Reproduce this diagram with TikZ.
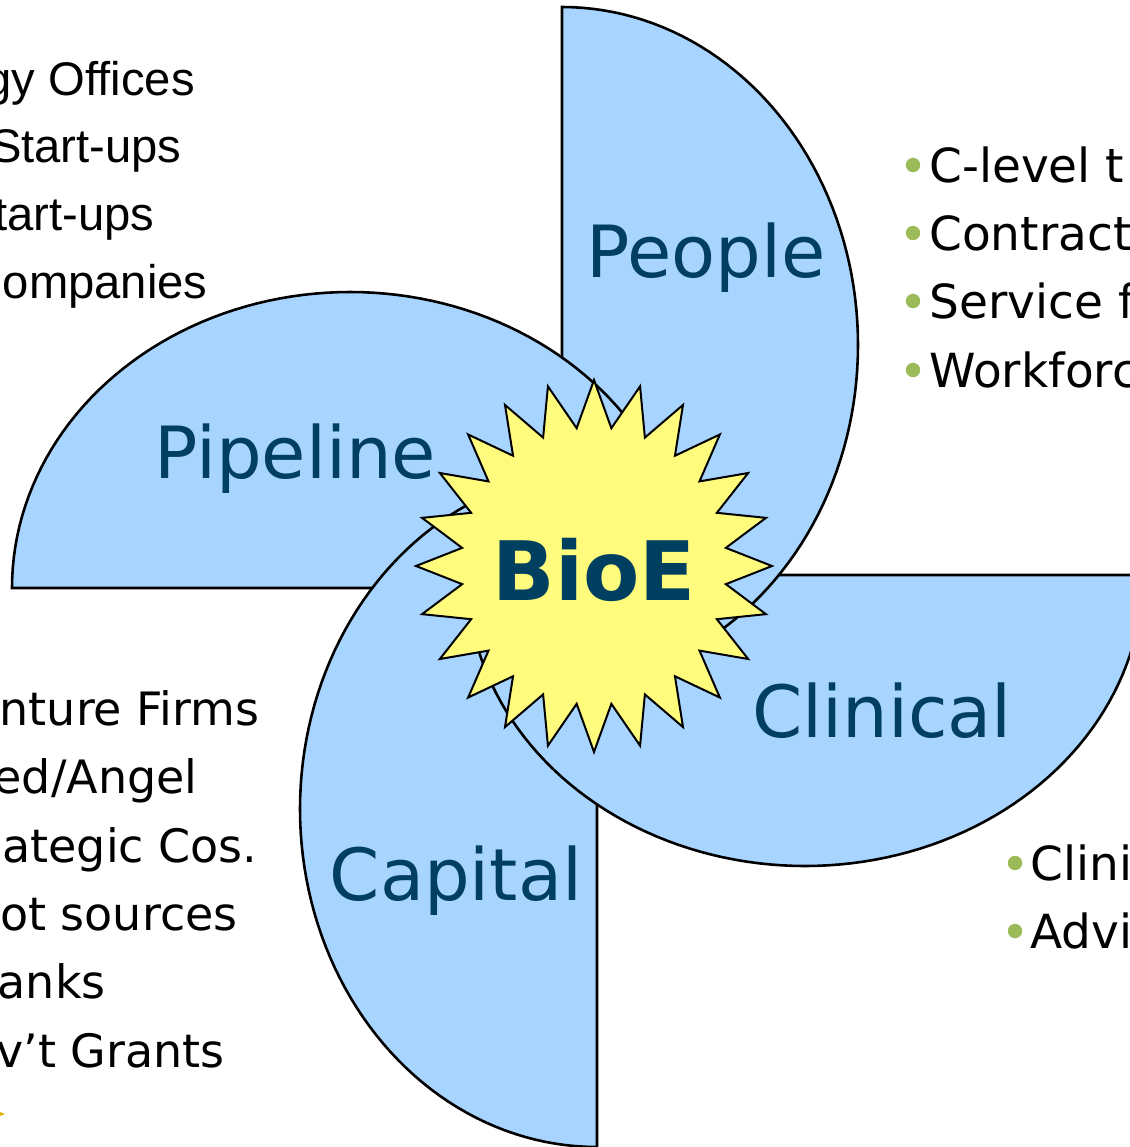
\documentclass[tikz,border=0pt]{standalone}
\usepackage{fontspec}
\setmainfont{DejaVu Sans}
\newfontfamily\arialfont{Liberation Sans}
\definecolor{petal}{RGB}{168,213,255}
\definecolor{burst}{RGB}{255,251,125}
\definecolor{navy}{RGB}{0,63,95}
\definecolor{bulletgreen}{RGB}{155,187,89}
\definecolor{gold}{RGB}{228,178,0}
\tikzset{
  outline/.style={line width=1.3pt,line join=miter},
  petallabel/.style={text=navy,font=\fontsize{36}{40}\selectfont,anchor=base,inner sep=0pt},
  listitem/.style={font=\fontsize{23}{27}\selectfont,inner sep=0pt},
}
\begin{document}
\begin{tikzpicture}[x=0.5pt,y=-0.5pt]
  \path[use as bounding box] (0,0) rectangle (1130,1147);
  \clip (0,0) rectangle (1130,1147);
  \fill[white] (0,0) rectangle (1130,1147);
  \def\petals{562/357/562/345/296/338/-90, 779/575/805/575/338/291/0,
              597/805/597/809/297/338/90, 372/588/350/588/338/296/180}
  \foreach \ex/\ey/\cx/\cy/\rx/\ry/\t in \petals{
    \fill[petal] plot[domain=\t:\t+180,samples=91] ({\cx+\rx*cos(\x)},{\cy+\ry*sin(\x)}) -- cycle;}
  \foreach \ex/\ey/\cx/\cy/\rx/\ry/\t in \petals{
    \draw[outline] (\ex,\ey) -- plot[domain=\t:\t+180,samples=91] ({\cx+\rx*cos(\x)},{\cy+\ry*sin(\x)});}
  \draw[line width=1pt,fill=burst] plot[samples at={0,...,47},variable=\k]
    ({594+(178-45*mod(\k,2))*sin(7.5*\k)},{566-(186-47*mod(\k,2))*cos(7.5*\k)}) -- cycle;
  \node[text=navy,font=\bfseries\fontsize{41}{44}\selectfont,anchor=base,inner sep=0pt] (bioe) at (594,600) {BioE};
  \node[petallabel] (people) at (706,277) {People};
  \node[petallabel] (pipeline) at (295,478) {Pipeline};
  \node[petallabel] (clinical) at (882,737) {Clinical};
  \node[petallabel] (capital) at (456,900) {Capital};
  \foreach \y/\x/\txt [count=\n] in {95/195/{gy Offices}, 162/182/{Start-ups},
                                     230/155/{tart-ups}, 298/208/{ompanies}}{
    \node[listitem,font=\arialfont\fontsize{23.6}{27}\selectfont,anchor=base east] (pipe-\n) at (\x,\y) {\txt};}
  \foreach \y/\x/\txt [count=\n] in {725/260/{nture Firms}, 793/198/{ed/Angel}, 862/258/{ategic Cos.},
                                     930/238/{ot sources}, 998/106/{anks}, 1067/225/{v’t Grants}}{
    \node[listitem,anchor=base east] (cap-\n) at (\x,\y) {\txt};}
  \foreach \y/\txt [count=\n] in {182/{C-level t}, 250/{Contract}, 318/{Service f}, 387/{Workforc}}{
    \fill[bulletgreen] (913,\y-17) circle[radius=3.6pt];
    \node[listitem,font=\fontsize{23.5}{27}\selectfont,anchor=base west] (ppl-\n) at (929,\y) {\txt};}
  \foreach \y/\txt [count=\n] in {880/{Clini}, 948/{Advi}}{
    \fill[bulletgreen] (1015,\y-17) circle[radius=3.6pt];
    \node[listitem,font=\fontsize{23.5}{27}\selectfont,anchor=base west] (clin-\n) at (1030,\y) {\txt};}
  \fill[gold] (0,1112) -- (5,1114) -- (0,1116) -- cycle;
\end{tikzpicture}
\end{document}
